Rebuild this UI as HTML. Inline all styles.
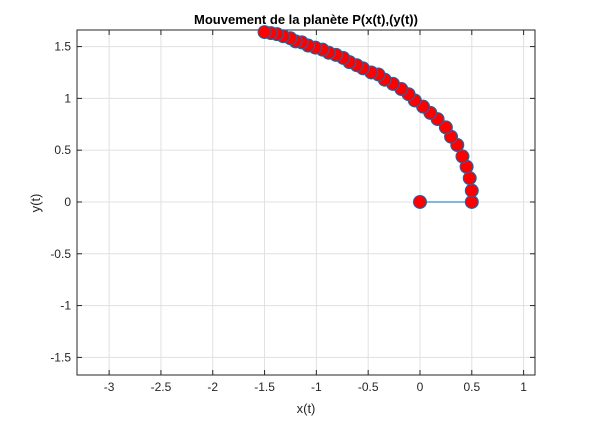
<!DOCTYPE html>
<html><head><meta charset="utf-8"><style>
body{margin:0;background:#fff;}
svg text{font-family:"Liberation Sans",sans-serif;}
</style></head><body>
<svg id="c" width="590" height="420" xmlns="http://www.w3.org/2000/svg">
<rect width="590" height="420" fill="#fff"/>
<g id="g"></g>
</svg>
<script>
const xTicks=[-3,-2.5,-2,-1.5,-1,-0.5,0,0.5,1];
const yTicks=[-1.5,-1,-0.5,0,0.5,1,1.5];
const xs=[0,0.5,0.5,0.48,0.45,0.41,0.36,0.30,0.25,0.17,0.10,0.03,-0.05,-0.11,-0.18,-0.26,-0.34,-0.40,-0.47,-0.55,-0.61,-0.68,-0.74,-0.81,-0.88,-0.94,-1.01,-1.08,-1.14,-1.20,-1.25,-1.32,-1.38,-1.44,-1.50];
const ys=[0,0,0.11,0.23,0.34,0.44,0.55,0.63,0.72,0.80,0.86,0.92,0.98,1.04,1.09,1.14,1.18,1.23,1.25,1.29,1.32,1.35,1.39,1.42,1.44,1.47,1.49,1.51,1.54,1.55,1.58,1.60,1.62,1.63,1.64];
const L=77,R=535,T=30,B=375,xmin=-3.31,xmax=1.11,ymin=-1.67,ymax=1.66;
const X=v=>L+(v-xmin)/(xmax-xmin)*(R-L);
const Y=v=>B-(v-ymin)/(ymax-ymin)*(B-T);
const NS="http://www.w3.org/2000/svg",g=document.getElementById('g');
function mk(t,a,p){const e=document.createElementNS(NS,t);for(const k in a)e.setAttribute(k,a[k]);(p||g).appendChild(e);return e;}
for(const v of xTicks){
 const l=mk('line',{x1:X(v),x2:X(v),y1:T,y2:B,stroke:'#e0e0e0','stroke-width':1});
 
 
 mk('line',{x1:X(v),x2:X(v),y1:B,y2:B-5,stroke:'#262626'});
 mk('line',{x1:X(v),x2:X(v),y1:T,y2:T+5,stroke:'#262626'});
 const t=mk('text',{x:X(v),y:B+16,'text-anchor':'middle','font-size':12,fill:'#262626'});t.textContent=String(v);
 
 
}
for(const v of yTicks){
 const l=mk('line',{x1:L,x2:R,y1:Y(v),y2:Y(v),stroke:'#e0e0e0','stroke-width':1});
 
 
 mk('line',{x1:L,x2:L+5,y1:Y(v),y2:Y(v),stroke:'#262626'});
 mk('line',{x1:R,x2:R-5,y1:Y(v),y2:Y(v),stroke:'#262626'});
 const t=mk('text',{x:L-6,y:Y(v)+4,'text-anchor':'end','font-size':12,fill:'#262626'});t.textContent=String(v);
 
 
}
const box=mk('rect',{x:L,y:T,width:R-L,height:B-T,fill:'none',stroke:'#262626','stroke-width':1});


const pl=mk('polyline',{points:xs.map((x,i)=>X(x)+','+Y(ys[i])).join(' '),fill:'none',stroke:'#0072BD','stroke-width':1});


xs.forEach((x,i)=>{
 const c=mk('circle',{cx:X(x),cy:Y(ys[i]),r:6.5,fill:'#ff0000',stroke:'#0072BD','stroke-width':1});
 
 
});
let t=mk('text',{x:306,y:24,'text-anchor':'middle','font-size':13,'font-weight':'bold',fill:'#000'});t.textContent='Mouvement de la planète P(x(t),(y(t))';


t=mk('text',{x:306,y:413,'text-anchor':'middle','font-size':13,fill:'#262626'});t.textContent='x(t)';


t=mk('text',{x:0,y:0,'text-anchor':'middle','font-size':13,fill:'#262626',transform:'translate(40,203) rotate(-90)'});t.textContent='y(t)';


</script>
</body></html>
